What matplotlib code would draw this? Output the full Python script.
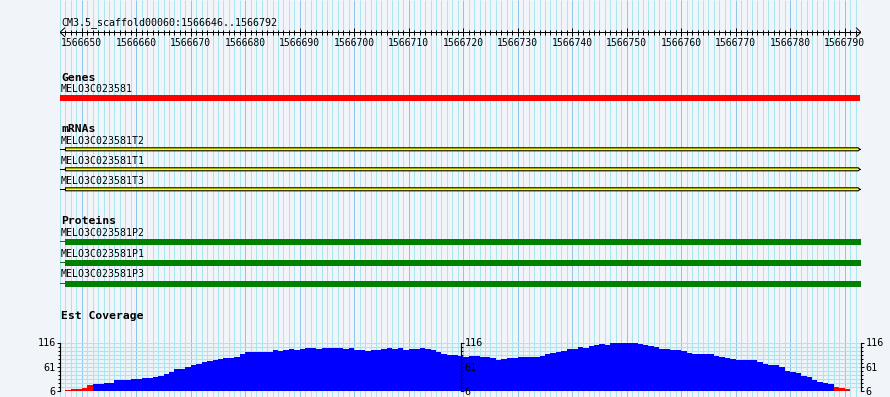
import numpy as np
import matplotlib
matplotlib.use("Agg")
import matplotlib.pyplot as plt
from matplotlib.patches import Polygon
from matplotlib.ticker import FixedLocator

# ---------------- data ----------------
region_name = "CM3.5_scaffold00060"
region_start = 1566646
region_end = 1566792

ruler_ticks = [1566650, 1566660, 1566670, 1566680, 1566690, 1566700, 1566710,
               1566720, 1566730, 1566740, 1566750, 1566760, 1566770, 1566780, 1566790]

gene_names = ["MELO3C023581"]
gene_starts = [1566646]
gene_ends = [1566792]

mrna_names = ["MELO3C023581T2", "MELO3C023581T1", "MELO3C023581T3"]
mrna_starts = [1566647, 1566647, 1566647]
mrna_ends = [1566792, 1566792, 1566792]

protein_names = ["MELO3C023581P2", "MELO3C023581P1", "MELO3C023581P3"]
protein_starts = [1566647, 1566647, 1566647]
protein_ends = [1566792, 1566792, 1566792]

coverage_values = [
    0, 8, 10, 11, 13, 19, 23, 23, 24, 24,
    30, 30, 31, 33, 33, 36, 36, 37, 40, 45,
    50, 55, 56, 61, 64, 68, 71, 74, 77, 79,
    81, 81, 84, 90, 95, 95, 95, 95, 94, 98,
    97, 99, 102, 99, 102, 103, 103, 102, 104, 104,
    104, 103, 102, 103, 99, 99, 97, 99, 100, 102,
    104, 102, 104, 100, 102, 102, 103, 101, 100, 95,
    91, 87, 88, 86, 84, 85, 86, 84, 82, 80,
    77, 78, 80, 81, 83, 83, 82, 84, 86, 90,
    93, 94, 96, 101, 102, 105, 104, 108, 111, 113,
    111, 114, 115, 115, 117, 114, 113, 111, 109, 105,
    102, 101, 99, 99, 96, 93, 91, 90, 90, 90,
    85, 82, 80, 78, 76, 76, 76, 76, 72, 68,
    66, 64, 60, 52, 50, 47, 41, 37, 32, 27,
    25, 23, 16, 12, 10, 0, 0,
]
coverage_min = 6
coverage_max = 116
coverage_labels = [6, 61, 116]
low_coverage = 20

# ---------------- style ----------------
W, H = 890, 397
BG = "#F1F5FA"
GRID_MINOR = "#A9E6EF"
GRID_MAJOR = "#8EC5EA"
LW = 0.72  # one pixel at 100 dpi
MONO = "DejaVu Sans Mono"
plt.rcParams["font.family"] = MONO

fig = plt.figure(figsize=(W / 100, H / 100), dpi=100, facecolor=BG)
x0_px, x1_px = 60, 861
ax = fig.add_axes([x0_px / W, 0, (x1_px - x0_px) / W, 1])
ax.set_xlim(region_start, region_end + 1)
ax.set_ylim(H, 0)
ax.axis("off")
ax.set_facecolor(BG)
bp_per_px = (region_end + 1 - region_start) / (x1_px - x0_px)


def xd(px):
    return region_start + (px - x0_px) * bp_per_px


# vertical grid lines
positions = np.arange(region_start, region_end + 2)
minor_pos = [p for p in positions if p % 10 != 0]
major_pos = [p for p in positions if p % 10 == 0]
ax.vlines(minor_pos, 0, H, color=GRID_MINOR, lw=LW, zorder=0)
ax.vlines(major_pos, 0, H, color=GRID_MAJOR, lw=LW, zorder=0)

# title + ruler
ax.text(xd(61), 25, f"{region_name}:{region_start}..{region_end}",
        fontsize=7.2, va="baseline", ha="left")
ry = 32.3
ax.plot([region_start, region_end + 1], [ry, ry], color="k", lw=LW)
ax.plot([region_start + 0.85, region_start, region_start + 0.85], [28, ry, 36.6], color="k", lw=LW)
ax.plot([region_end + 1 - 0.85, region_end + 1, region_end + 1 - 0.85], [28, ry, 36.6], color="k", lw=LW)
tick_minor = [p for p in range(region_start + 1, region_end + 1) if p not in ruler_ticks]
ax.vlines(tick_minor, 30.3, 34.7, color="k", lw=LW)
ax.vlines(ruler_ticks, 28.3, 36.3, color="k", lw=LW)
for t in ruler_ticks:
    ax.text(t, 46, str(t), fontsize=7.0, ha="center", va="baseline")

HEAD = dict(fontsize=8.2, fontweight="bold", va="baseline", ha="left")
LAB = dict(fontsize=7.1, va="baseline", ha="left")

# Genes
ax.text(xd(61), 81, "Genes", **HEAD)
for i, (n, s, e) in enumerate(zip(gene_names, gene_starts, gene_ends)):
    ax.text(xd(61), 92 + 20 * i, n, **LAB)
    ax.barh(98 + 20 * i, e + 1 - s, left=s - 0.2, height=6, color="#FF0000", lw=0)

# mRNAs
ax.text(xd(61), 132, "mRNAs", **HEAD)
for i, (n, s, e) in enumerate(zip(mrna_names, mrna_starts, mrna_ends)):
    base = 144 + 20 * i
    cy = 149.3 + 20 * i
    ax.text(xd(61), base, n, **LAB)
    ax.plot([region_start - 0.15, s], [cy, cy], color="k", lw=LW)
    ax.plot([e + 0.8, region_end + 1.1], [cy, cy], color="k", lw=LW)
    poly = Polygon([(s, cy - 1.5), (e + 0.5, cy - 1.5), (e + 0.8, cy),
                    (e + 0.5, cy + 1.5), (s, cy + 1.5)], closed=True,
                   facecolor="#FFFF00", edgecolor="k", lw=LW * 1.1)
    ax.add_patch(poly)

# Proteins
ax.text(xd(61), 224, "Proteins", **HEAD)
p_base = [236, 257, 277]
p_center = [242, 263, 284]
for i, (n, s, e) in enumerate(zip(protein_names, protein_starts, protein_ends)):
    ax.text(xd(61), p_base[i], n, **LAB)
    ax.plot([region_start - 0.15, s], [p_center[i] - 0.8, p_center[i] - 0.8], color="#008000", lw=LW)
    ax.barh(p_center[i], e + 1 - s, left=s, height=6, color="#008000", lw=0)

# Est Coverage
ax.text(xd(61), 319, "Est Coverage", **HEAD)

y_base, y_top = 391, 342.5
cov = fig.add_axes([x0_px / W, (H - y_base) / H, (x1_px - x0_px) / W, (y_base - y_top) / H])
cov.set_facecolor("none")
cov.set_xlim(region_start, region_end + 1)
cov.set_ylim(coverage_min, coverage_max)
cov_pos = np.arange(region_start, region_start + len(coverage_values))
vals = np.array(coverage_values, dtype=float)
colors = ["#FF0000" if v < low_coverage else "#0000FF" for v in vals]
cov.bar(cov_pos, vals, width=1.0, align="edge", color=colors, lw=0, zorder=2)
cov.set_axisbelow(True)
for side in ("top", "bottom"):
    cov.spines[side].set_visible(False)
for side in ("left", "right"):
    cov.spines[side].set_linewidth(LW * 1.2)
cov.set_xticks([])
minor_ticks = np.linspace(coverage_min, coverage_max, 13)
cov.set_yticks(coverage_labels)
cov.set_yticklabels([str(v) for v in coverage_labels])
cov.yaxis.set_minor_locator(FixedLocator(minor_ticks))
cov.tick_params(axis="y", which="both", direction="out", left=True, right=True,
                labelleft=True, labelright=True, width=LW, labelsize=7.3, pad=0.8)
cov.tick_params(axis="y", which="major", length=2.3)
cov.tick_params(axis="y", which="minor", length=1.5)
cov.grid(True, axis="y", which="both", color=GRID_MINOR, lw=LW * 1.2)

mid = cov.secondary_yaxis(0.5)
mid.set_zorder(10)
mid.set_yticks(coverage_labels)
mid.set_yticklabels([str(v) for v in coverage_labels])
mid.yaxis.set_minor_locator(FixedLocator(minor_ticks))
mid.tick_params(axis="y", which="both", direction="out", width=LW, labelsize=7.3, pad=0.8)
mid.tick_params(axis="y", which="major", length=2.3)
mid.tick_params(axis="y", which="minor", length=1.5)
for sp in mid.spines.values():
    sp.set_linewidth(LW * 1.2)

fig.savefig("out.png", dpi=100, facecolor=BG)
